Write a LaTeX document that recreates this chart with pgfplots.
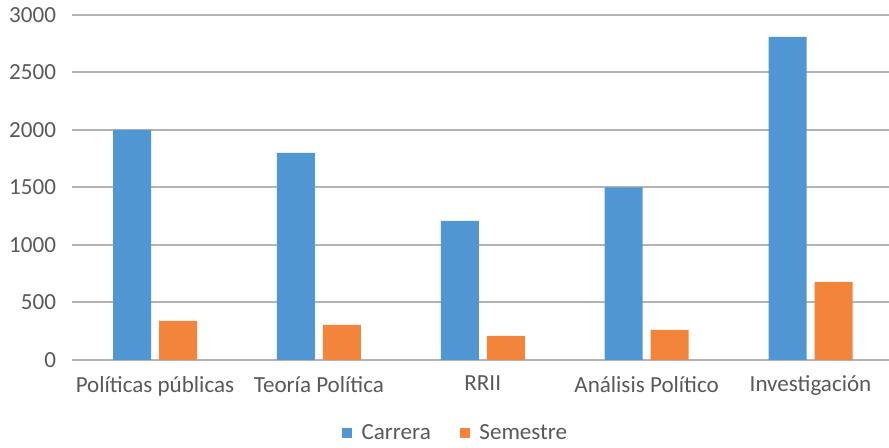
\documentclass[border=0pt]{standalone}
\usepackage{pgfplots}
\pgfplotsset{compat=1.18}
\usepackage{fontspec}
\setmainfont{Carlito}
\definecolor{cblue}{RGB}{80,150,211}
\definecolor{corange}{RGB}{242,132,59}
\definecolor{txtgray}{RGB}{89,89,89}
\definecolor{gridgray}{RGB}{180,180,180}
\begin{document}
\begin{tikzpicture}
\useasboundingbox (0,0) rectangle (666.75pt,336pt);
\begin{axis}[
  at={(54pt,66pt)}, anchor=south west,
  scale only axis, width=612.75pt, height=258.75pt,
  ybar=6pt, bar width=28.5pt,
  xmin=-0.5065, xmax=4.479, ymin=0, ymax=3000,
  xtick=data,
  xticklabels={Políticas públicas, Teoría Política, RRII, Análisis Político, Investigación},
  ytick={0,500,1000,1500,2000,2500,3000},
  ymajorgrids, grid style={gridgray, line width=1.5pt},
  axis x line*=bottom, axis y line*=left,
  x axis line style={gridgray, line width=1.5pt, -},
  y axis line style={draw=none},
  major tick length=0pt,
  tick style={draw=none},
  /pgf/number format/assume math mode=true,
  /pgf/number format/1000 sep={},
  every tick label/.append style={font=\fontsize{17.3}{20}\selectfont, text=txtgray},
  yticklabel style={xshift=-8.5pt},
  xticklabel style={yshift=-8.5pt},
  legend style={at={(0.47,-0.2116)}, anchor=center, draw=none, legend columns=-1,
    font=\fontsize{17.3}{20}\selectfont, text=txtgray,
    /tikz/every odd column/.append style={column sep=5pt},
    /tikz/every even column/.append style={column sep=20pt}},
  legend image code/.code={\fill[#1] (0pt,-3.5pt) rectangle (7.5pt,4pt);},
  clip=false,
]
\addplot[fill=cblue, draw=none] coordinates {(0,2000) (1,1800) (2,1210) (3,1500) (4,2810)};
\addplot[fill=corange, draw=none] coordinates {(0,340) (1,305) (2,210) (3,262) (4,680)};
\legend{Carrera, Semestre}
\end{axis}
\end{tikzpicture}
\end{document}
